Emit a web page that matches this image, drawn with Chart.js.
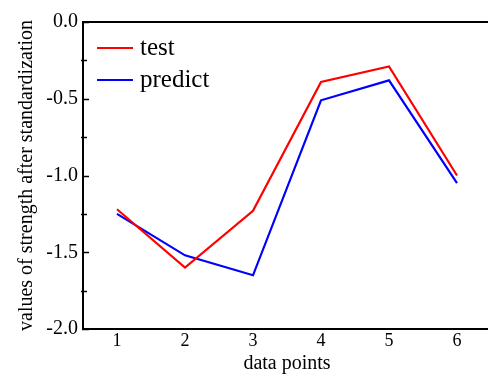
<!DOCTYPE html>
<html>
<head>
<meta charset="utf-8">
<script src="https://cdn.jsdelivr.net/npm/chart.js@4.4.1/dist/chart.umd.min.js"></script>
<style>
  html, body { margin: 0; padding: 0; background: #fff; overflow: hidden; }
  #wrap { position: absolute; left: 0; top: 0; width: 492px; height: 374px; }
</style>
</head>
<body>
<div id="wrap"><canvas id="strengthChart" width="492" height="374"></canvas></div>
<script>
// data points
const categories = ['1', '2', '3', '4', '5', '6'];
const testValues = [-1.22, -1.60, -1.23, -0.39, -0.29, -1.00];
const predictValues = [-1.25, -1.52, -1.65, -0.51, -0.38, -1.05];
const yTicks = [-2.0, -1.5, -1.0, -0.5, 0.0];
const yMinorTicks = [-1.75, -1.25, -0.75, -0.25];

const serif = "'Liberation Serif', 'DejaVu Serif', serif";

// frame on top + inward ticks + legend inside plot
const framePlugin = {
    id: 'frame',
    afterDraw(chart) {
        const ctx = chart.ctx;
        const area = chart.chartArea;
        const y = chart.scales.y;
        ctx.save();
        ctx.strokeStyle = '#000';
        ctx.lineWidth = 2;
        ctx.beginPath();
        ctx.moveTo(area.left - 1, area.top);
        ctx.lineTo(area.right + 2, area.top);
        ctx.stroke();

        ctx.lineWidth = 1.5;
        yTicks.forEach(v => {
            const py = Math.round(y.getPixelForValue(v)) + 0.5;
            ctx.beginPath();
            ctx.moveTo(area.left - 1, py);
            ctx.lineTo(area.left + 6, py);
            ctx.stroke();
        });
        yMinorTicks.forEach(v => {
            const py = Math.round(y.getPixelForValue(v)) + 0.5;
            ctx.beginPath();
            ctx.moveTo(area.left - 2, py);
            ctx.lineTo(area.left + 4, py);
            ctx.stroke();
        });

        // legend
        ctx.font = '25px ' + serif;
        ctx.textBaseline = 'alphabetic';
        ctx.textAlign = 'left';
        chart.data.datasets.forEach((ds, i) => {
            const ly = 48 + i * 32;
            ctx.strokeStyle = ds.borderColor;
            ctx.lineWidth = 2;
            ctx.beginPath();
            ctx.moveTo(97, ly);
            ctx.lineTo(133, ly);
            ctx.stroke();
            ctx.fillStyle = '#000';
            ctx.fillText(ds.label, 140, ly + 7);
        });
        ctx.restore();
    }
};

const ctx = document.getElementById('strengthChart').getContext('2d');

const strengthChart = new Chart(ctx, {
    type: 'line',
    data: {
        labels: categories,
        datasets: [
            {
                label: 'test',
                data: testValues,
                borderColor: '#ff0000',
                borderWidth: 2.2,
                pointRadius: 0,
                tension: 0,
                fill: false
            },
            {
                label: 'predict',
                data: predictValues,
                borderColor: '#0000ff',
                borderWidth: 2.2,
                pointRadius: 0,
                tension: 0,
                fill: false
            }
        ]
    },
    options: {
        responsive: false,
        animation: false,
        devicePixelRatio: 1,
        layout: { padding: { top: 22, right: 1, bottom: 0, left: 0 } },
        plugins: {
            legend: { display: false },
            tooltip: { enabled: false }
        },
        scales: {
            x: {
                type: 'category',
                offset: true,
                grid: { display: false, drawTicks: false },
                border: { display: true, color: '#000', width: 2 },
                ticks: {
                    color: '#000',
                    padding: 1,
                    font: { family: serif, size: 18 }
                },
                title: {
                    display: true,
                    text: 'data points',
                    color: '#000',
                    font: { family: serif, size: 20, lineHeight: 1 },
                    padding: { top: 0, bottom: 0 }
                },
                afterFit(scale) { scale.height = 45; }
            },
            y: {
                min: -2,
                max: 0,
                afterBuildTicks(scale) {
                    scale.ticks = yTicks.map(v => ({ value: v }));
                },
                grid: { display: false, drawTicks: false },
                border: { display: true, color: '#000', width: 2 },
                ticks: {
                    color: '#000',
                    padding: 5,
                    font: { family: serif, size: 20 },
                    callback: v => Number(v).toFixed(1)
                },
                title: {
                    display: true,
                    text: 'values of strength after standardization',
                    color: '#000',
                    font: { family: serif, size: 20, lineHeight: 1 },
                    padding: { top: 17, bottom: 0 }
                },
                afterFit(scale) { scale.width = 83; }
            }
        }
    },
    plugins: [framePlugin]
});
</script>
</body>
</html>
